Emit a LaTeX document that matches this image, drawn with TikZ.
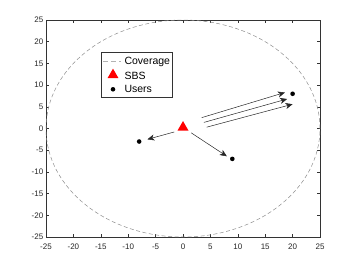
\documentclass[tikz,border=0pt]{standalone}
\usepackage{fontspec}
\setmainfont{Liberation Sans}
\usetikzlibrary{arrows.meta,shapes.geometric}
\begin{document}
\begin{tikzpicture}[x=1pt,y=1pt,
  axisline/.style={draw=black!80, line width=0.5pt},
  ticklab/.style={font=\fontsize{8}{9}\selectfont, text=black!85, inner sep=0pt},
  cov/.style={draw=black!45, dash pattern=on 4pt off 2.5pt, line width=0.5pt},
  user/.style={circle, fill=black, inner sep=0pt, minimum size=4.6pt},
  sbs/.style={regular polygon, regular polygon sides=3, fill=red, inner sep=0pt, minimum size=12.7pt},
  arr/.style={draw=black!85, line width=0.5pt, -{Stealth[length=7pt,width=6pt,inset=2pt]}},
  legtext/.style={font=\fontsize{10.5}{12}\selectfont, anchor=west, inner sep=0pt, text=black}
]
\useasboundingbox (0,0) rectangle (354,266);
% axes box
\draw[axisline] (46,29) rectangle (320,246);
\foreach \k in {0,...,10}{
  \pgfmathsetmacro\xx{46+27.4*\k}
  \pgfmathsetmacro\yy{29+21.7*\k}
  \pgfmathtruncatemacro\v{-25+5*\k}
  \draw[axisline] (\xx,29) -- (\xx,31.8);
  \draw[axisline] (\xx,246) -- (\xx,243.2);
  \draw[axisline] (46,\yy) -- (48.8,\yy);
  \draw[axisline] (320,\yy) -- (317.2,\yy);
  \node[ticklab] (xl\k) at (\xx,19.7) {\v};
  \node[ticklab, anchor=east] (yl\k) at (43.5,\yy) {\v};
}
% data
\begin{scope}[shift={(183pt,137.5pt)}, x=5.48pt, y=4.34pt]
  \draw[cov] (0,0) ellipse [x radius=137pt, y radius=108.5pt];
  \node[sbs] (bs) at (0,0.25) {};
  \node[user] (u1) at (-8,-3) {};
  \node[user] (u2) at (9,-7) {};
  \node[user] (u3) at (20,8) {};
  \coordinate (a1s) at (-1.6,-0.8);  \coordinate (a1e) at (-6.5,-2.5);
  \coordinate (a2s) at (1.5,-1.0);   \coordinate (a2e) at (8.0,-6.4);
  \coordinate (b1s) at (3.4,2.5);    \coordinate (b1e) at (18.6,8.3);
  \coordinate (b2s) at (3.8,1.4);    \coordinate (b2e) at (19.0,6.8);
  \coordinate (b3s) at (4.3,0.3);    \coordinate (b3e) at (20.0,5.6);
  \draw[arr] (a1s) -- (a1e);
  \draw[arr] (a2s) -- (a2e);
  \draw[arr] (b1s) -- (b1e);
  \draw[arr] (b2s) -- (b2e);
  \draw[arr] (b3s) -- (b3e);
\end{scope}
% legend
\draw[draw=black!80, fill=white, line width=0.5pt] (101.7,168.3) rectangle (172.7,213.7);
\coordinate (lc1) at (103,204.3); \coordinate (lc2) at (120.5,204.3);
\draw[draw=black!30, dash pattern=on 5pt off 3pt, line width=0.5pt] (lc1) -- (lc2);
\node[legtext] (lcov) at (124.3,204.3) {Coverage};
\node[sbs] (lsbs) at (113,191) {};
\node[legtext] (lsbst) at (124.3,190) {SBS};
\node[user] (lusr) at (113,176.7) {};
\node[legtext] (lusrt) at (124.3,176.7) {Users};
\end{tikzpicture}
\end{document}
